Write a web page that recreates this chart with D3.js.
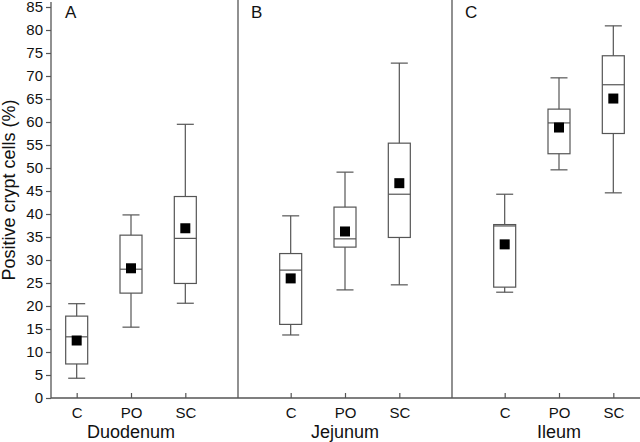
<!DOCTYPE html>
<html>
<head>
<meta charset="utf-8">
<script src="https://cdn.jsdelivr.net/npm/d3@7"></script>
<style>
  body { margin: 0; background: #fff; }
  text { font-family: "Liberation Sans", Arial, sans-serif; fill: #111; }
</style>
</head>
<body>
<div id="chart"></div>
<script>
// regions (panels) and groups inside each panel
const regions = ['Duodenum', 'Jejunum', 'Ileum'];
const panelLetters = ['A', 'B', 'C'];
const groups = ['C', 'PO', 'SC'];
const yTicks = d3.range(0, 90, 5);

// box stats per region, in the order of groups
const whiskerLow = [[4.3, 15.4, 20.6], [13.7, 23.5, 24.6], [23.0, 49.6, 44.6]];
const q1 = [[7.4, 22.8, 24.9], [16.0, 32.8, 34.9], [24.1, 53.1, 57.5]];
const median = [[13.3, 28.0, 34.7], [27.8, 34.6, 44.3], [37.4, 59.8, 68.1]];
const q3 = [[17.8, 35.4, 43.8], [31.4, 41.5, 55.4], [37.7, 62.8, 74.4]];
const whiskerHigh = [[20.5, 39.8, 59.5], [39.6, 49.1, 72.8], [44.3, 69.6, 80.9]];
const mean = [[12.5, 28.2, 36.9], [26.0, 36.2, 46.7], [33.4, 58.8, 65.1]];

const width = 640, height = 442;
const plotLeft = 51, plotRight = 640, plotBottom = 398, plotTop = 7;
const ink = '#555';

const svg = d3.select('#chart').append('svg')
  .attr('width', width)
  .attr('height', height);

const y = d3.scaleLinear().domain([0, 85]).range([plotBottom, plotTop]);

const xOuter = d3.scaleBand().domain(regions).range([24, 666]);
const xInner = d3.scalePoint().domain(groups).range([0, xOuter.bandwidth()]).padding(0.97);

// y axis
const yAxis = svg.append('g')
  .attr('transform', 'translate(' + plotLeft + ',0)')
  .call(d3.axisLeft(y).tickValues(yTicks).tickSize(5).tickPadding(3).tickSizeOuter(0));
yAxis.select('.domain').attr('stroke', ink).attr('stroke-width', 1.3)
  .attr('d', 'M0,' + plotBottom + 'V2');
yAxis.selectAll('.tick line').attr('stroke', ink).attr('stroke-width', 1.2);
yAxis.selectAll('.tick text').style('font-size', '15px').attr('fill', '#111');

svg.append('text')
  .attr('transform', 'translate(15,' + 190 + ') rotate(-90)')
  .attr('text-anchor', 'middle')
  .style('font-size', '18px')
  .text('Positive crypt cells (%)');

// baseline
svg.append('line')
  .attr('x1', plotLeft).attr('x2', plotRight)
  .attr('y1', plotBottom).attr('y2', plotBottom)
  .attr('stroke', ink).attr('stroke-width', 1.3);

// panel dividers
regions.slice(1).forEach(r => {
  svg.append('line')
    .attr('x1', xOuter(r)).attr('x2', xOuter(r))
    .attr('y1', 0).attr('y2', plotBottom)
    .attr('stroke', ink).attr('stroke-width', 1.3);
});

const boxW = 22, capW = 17, sq = 10;

regions.forEach((r, ri) => {
  const g = svg.append('g').attr('transform', 'translate(' + xOuter(r) + ',0)');

  const ax = g.append('g')
    .attr('transform', 'translate(0,' + plotBottom + ')')
    .call(d3.axisBottom(xInner).tickSize(-5).tickPadding(9));
  ax.select('.domain').remove();
  ax.selectAll('.tick line').attr('stroke', ink).attr('stroke-width', 1.2);
  ax.selectAll('.tick text').style('font-size', '15px').attr('fill', '#111');

  g.append('text')
    .attr('x', xOuter.bandwidth() / 2)
    .attr('y', 438)
    .attr('text-anchor', 'middle')
    .style('font-size', '18px')
    .text(r);

  // panel letter
  svg.append('text')
    .attr('x', ri === 0 ? 65 : xOuter(r) + 13)
    .attr('y', 18)
    .style('font-size', '17px')
    .text(panelLetters[ri]);

  groups.forEach((grp, gi) => {
    const cx = xInner(grp);
    const b = g.append('g');
    b.append('line')
      .attr('x1', cx).attr('x2', cx)
      .attr('y1', y(whiskerLow[ri][gi])).attr('y2', y(whiskerHigh[ri][gi]))
      .attr('stroke', ink).attr('stroke-width', 1.2);
    [whiskerLow[ri][gi], whiskerHigh[ri][gi]].forEach(v => {
      b.append('line')
        .attr('x1', cx - capW / 2).attr('x2', cx + capW / 2)
        .attr('y1', y(v)).attr('y2', y(v))
        .attr('stroke', ink).attr('stroke-width', 1.2);
    });
    b.append('rect')
      .attr('x', cx - boxW / 2)
      .attr('y', y(q3[ri][gi]))
      .attr('width', boxW)
      .attr('height', y(q1[ri][gi]) - y(q3[ri][gi]))
      .attr('fill', '#fff')
      .attr('stroke', ink).attr('stroke-width', 1.2);
    b.append('line')
      .attr('x1', cx - boxW / 2).attr('x2', cx + boxW / 2)
      .attr('y1', y(median[ri][gi])).attr('y2', y(median[ri][gi]))
      .attr('stroke', ink).attr('stroke-width', 1.2);
    b.append('rect')
      .attr('x', cx - sq / 2)
      .attr('y', y(mean[ri][gi]) - sq / 2)
      .attr('width', sq).attr('height', sq)
      .attr('fill', '#000');
  });
});
</script>
</body>
</html>
